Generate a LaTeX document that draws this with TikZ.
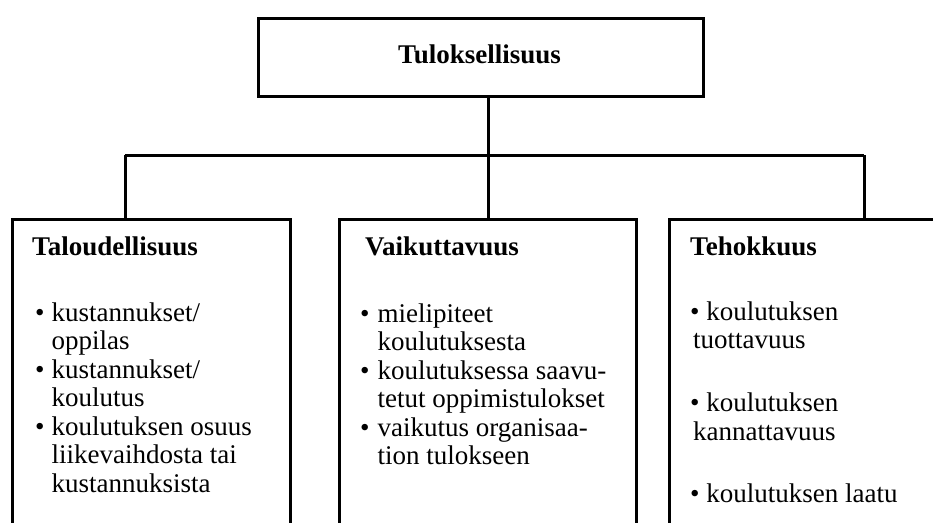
\documentclass[tikz,border=0pt]{standalone}
\usepackage{fontspec}
\setmainfont{Liberation Serif}
\usetikzlibrary{calc}
\tikzset{
  frame/.style={draw, line width=3pt, inner sep=0pt, anchor=north west},
  conn/.style={line width=3pt},
  ttl/.style={anchor=base west, inner sep=0pt, font=\fontsize{27}{28.5}\selectfont\bfseries},
  body/.style={anchor=base west, inner sep=0pt, font=\fontsize{27}{28.5}\selectfont},
}
\newcommand{\bul}{\textbullet}
\begin{document}
\begin{tikzpicture}[x=1pt,y=-1pt]
\useasboundingbox (0,0) rectangle (933,522);
\clip (0,0) rectangle (933,522);
% top box
\node[frame, minimum width=445pt, minimum height=78pt] (top) at (257,17) {};
\node[anchor=base, inner sep=0pt, font=\fontsize{27}{28.5}\selectfont\bfseries] (toptxt) at (479.5,63) {Tuloksellisuus};
% bottom boxes (open at the bottom)
\node[frame, minimum width=278pt, minimum height=330pt] (b1) at (11,218) {};
\node[frame, minimum width=297pt, minimum height=330pt] (b2) at (338,218) {};
\node[frame, minimum width=300pt, minimum height=330pt] (b3) at (668,218) {};
% connectors
\coordinate (j1) at (125,155);
\coordinate (j3) at (864,155);
\draw[conn] (b2.north |- top.south) -- (b2.north);
\draw[conn] (j1) -- (j3);
\draw[conn] (j1) -- (j1 |- b1.north);
\draw[conn] (j3) -- (j3 |- b3.north);
% titles
\node[ttl] (t1) at (32,255) {Taloudellisuus};
\node[ttl] (t2) at (365,255) {Vaikuttavuus};
\node[ttl] (t3) at (690,255) {Tehokkuus};
% lists
\node[body] (l1) at (35,321) {\begin{tabular}[t]{@{}l@{\hspace{7pt}}l@{}}
\bul & kustannukset/\\
 & oppilas\\
\bul & kustannukset/\\
 & koulutus\\
\bul & koulutuksen osuus\\
 & liikevaihdosta tai\\
 & kustannuksista
\end{tabular}};
\node[body] (l2) at (360,322) {\begin{tabular}[t]{@{}l@{\hspace{8pt}}l@{}}
\bul & mielipiteet\\
 & koulutuksesta\\
\bul & koulutuksessa saavu-\\
 & tetut oppimistulokset\\
\bul & vaikutus organisaa-\\
 & tion tulokseen
\end{tabular}};
\node[body] (l3) at (690,320) {\begin{tabular}[t]{@{}l@{}}
\bul\ koulutuksen\\
\hspace{3pt}tuottavuus\\[34.5pt]
\bul\ koulutuksen\\
\hspace{3pt}kannattavuus\\[33.5pt]
\bul\ koulutuksen laatu
\end{tabular}};
\end{tikzpicture}
\end{document}
